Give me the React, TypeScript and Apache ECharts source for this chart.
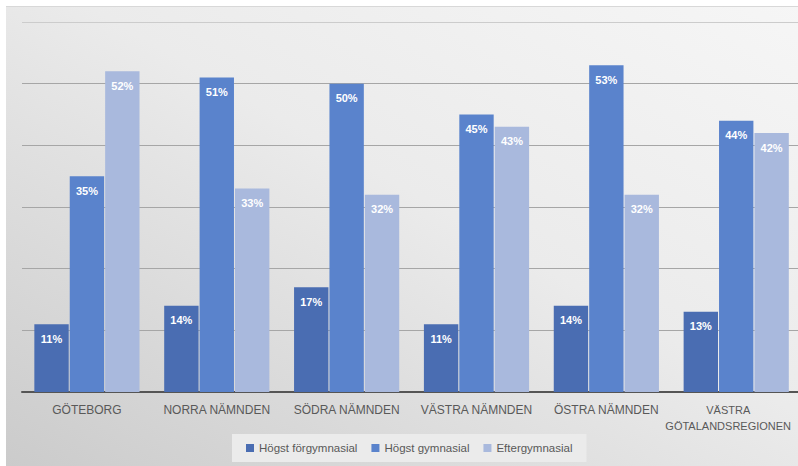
import React, { useEffect, useRef } from "react";
import * as echarts from "echarts";

const categories = ["GÖTEBORG", "NORRA NÄMNDEN", "SÖDRA NÄMNDEN", "VÄSTRA NÄMNDEN", "ÖSTRA NÄMNDEN", "VÄSTRA\nGÖTALANDSREGIONEN"];
const seriesNames = ["Högst förgymnasial", "Högst gymnasial", "Eftergymnasial"];
const forgymnasial = [11, 14, 17, 11, 14, 13];
const gymnasial = [35, 51, 50, 45, 53, 44];
const eftergymnasial = [52, 33, 32, 43, 32, 42];
const colors = ["#4a6db2", "#5a83cc", "#a9b9dd"];

const FONT = "'Liberation Sans', Arial, sans-serif";

export default function App() {
  const ref = useRef<HTMLDivElement>(null);
  useEffect(() => {
    if (!ref.current) return;
    const chart = echarts.init(ref.current, undefined, { renderer: "svg" });
    const values = [forgymnasial, gymnasial, eftergymnasial];
    const catData = categories.map((c, i) =>
      i === categories.length - 1
        ? { value: c, textStyle: { fontSize: 11, padding: [0, 16, 0, 0] } }
        : c
    );
    chart.setOption({
      animation: false,
      backgroundColor: "#ffffff",
      textStyle: { fontFamily: FONT },
      graphic: [
        {
          type: "rect",
          z: -10,
          silent: true,
          shape: { x: 6, y: 6, width: 804, height: 460 },
          style: {
            fill: new echarts.graphic.LinearGradient(0, 1, 1, 0, [
              { offset: 0, color: "#cbcbcb" },
              { offset: 0.55, color: "#ebebeb" },
              { offset: 1, color: "#f6f6f6" },
            ]),
          },
        },
        {
          type: "line",
          z: -9,
          silent: true,
          shape: { x1: 6, y1: 6.5, x2: 810, y2: 6.5 },
          style: { stroke: "#d8d8d8", lineWidth: 1 },
        },
      ],
      grid: { left: 22, top: 22, width: 780, bottom: 74, containLabel: false },
      legend: {
        data: seriesNames,
        bottom: 4,
        left: 232,
        icon: "rect",
        itemWidth: 8,
        itemHeight: 8,
        itemGap: 14,
        backgroundColor: "#ebebeb",
        padding: [8, 14, 8, 14],
        textStyle: { color: "#595959", fontSize: 11.5, fontFamily: FONT },
      },
      xAxis: {
        type: "category",
        data: catData,
        axisLine: { lineStyle: { color: "#555555", width: 2 } },
        axisTick: { show: false },
        axisLabel: {
          color: "#595959",
          fontSize: 12,
          margin: 10,
          lineHeight: 16,
          interval: 0,
          hideOverlap: false,
          fontFamily: FONT,
        },
      },
      yAxis: {
        type: "value",
        min: 0,
        max: 60,
        interval: 10,
        axisLabel: { show: false },
        axisLine: { show: false },
        axisTick: { show: false },
        splitLine: {
          lineStyle: {
            color: ["#a6a6a6", "#a6a6a6", "#a6a6a6", "#a6a6a6", "#a6a6a6", "#a6a6a6", "#cccccc"],
            width: 1,
          },
        },
      },
      series: seriesNames.map((name, i) => ({
        name,
        type: "bar",
        data: values[i],
        barCategoryGap: "19%",
        barGap: "3%",
        itemStyle: { color: colors[i] },
        label: {
          show: true,
          position: "insideTop",
          distance: 9,
          color: "#ffffff",
          fontWeight: "bold",
          fontSize: 11,
          fontFamily: FONT,
          formatter: "{c}%",
        },
      })),
    });
    return () => chart.dispose();
  }, []);
  return <div ref={ref} style={{ position: "fixed", left: 0, top: 0, width: 810, height: 466 }} />;
}
